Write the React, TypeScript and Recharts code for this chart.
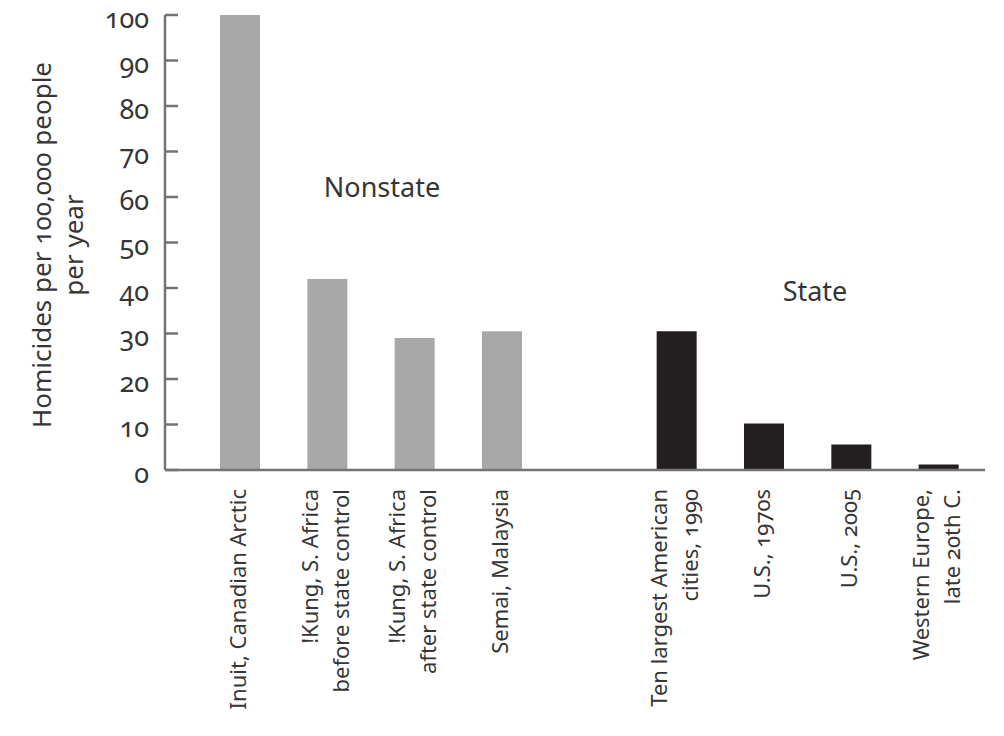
import { BarChart, Bar, XAxis, YAxis, Cell } from 'recharts';

const categories = [
  'Inuit, Canadian Arctic',
  '!Kung, S. Africa\nbefore state control',
  '!Kung, S. Africa\nafter state control',
  'Semai, Malaysia',
  '',
  'Ten largest American\ncities, 1990',
  'U.S., 1970s',
  'U.S., 2005',
  'Western Europe,\nlate 20th C.',
];
const rates = [100, 42, 29, 30.5, null, 30.5, 10.2, 5.6, 1.2];
const groups = ['nonstate', 'nonstate', 'nonstate', 'nonstate', '', 'state', 'state', 'state', 'state'];
const yTicks = [0, 10, 20, 30, 40, 50, 60, 70, 80, 90, 100];

const FONT = '"Noto Sans", "Open Sans", sans-serif';
const TEXT = '#363636';
const AXIS = '#747474';
const COLORS: Record<string, string> = { nonstate: '#a8a8a8', state: '#231f20' };
const NUMS = { fontVariantNumeric: 'oldstyle-nums', fontFeatureSettings: '"onum" 1' } as any;

const data = categories.map((name, i) => ({ name, rate: rates[i], group: groups[i] }));

function CategoryTick({ x, y, payload }: any) {
  const lines = String(payload.value).split('\n');
  const n = lines.length;
  return (
    <g transform={`translate(${x - 3},${y + 17})`}>
      <text transform="rotate(-90)" textAnchor="end" fill={TEXT} fontSize={22} fontFamily={FONT} style={NUMS}>
        {lines.map((line, i) => (
          <tspan key={i} x={0} y={(i - (n - 1) / 2) * 31} dominantBaseline="central">{line}</tspan>
        ))}
      </text>
    </g>
  );
}

function ValueTick({ x, y, payload }: any) {
  // zero-width non-joiner keeps the shaper on the full OpenType path so "onum" applies
  return (
    <g>
      <line x1={x + 16} x2={x + 29} y1={y} y2={y} stroke={AXIS} strokeWidth={2.5} />
      <text x={x} y={y + 2} textAnchor="end" dominantBaseline="central" fill={TEXT} fontSize={27} fontFamily={FONT} style={NUMS}>
        {'\u200C' + String(payload.value)}
      </text>
    </g>
  );
}

export default function App() {
  return (
    <div
      style={{
        position: 'absolute', left: 0, top: 0, width: 1004, height: 736, background: '#fff',
        fontFamily: FONT, ...NUMS,
      }}
    >
      <BarChart width={1004} height={736} data={data} margin={{ top: 15, right: 19, bottom: 0, left: 0 }}>
        <XAxis
          dataKey="name"
          interval={0}
          height={266}
          padding={{ left: 31, right: 3 }}
          tickLine={false}
          tickSize={0}
          axisLine={{ stroke: AXIS, strokeWidth: 2.5 }}
          tick={<CategoryTick />}
        />
        <YAxis
          width={165}
          domain={[0, 100]}
          ticks={yTicks}
          interval={0}
          tickLine={false}
          tickSize={0}
          tickMargin={16}
          axisLine={{ stroke: AXIS, strokeWidth: 2.5 }}
          tick={<ValueTick />}
        />
        <Bar dataKey="rate" barSize={40} isAnimationActive={false}>
          {data.map((d, i) => (
            <Cell key={i} fill={COLORS[d.group] || 'none'} />
          ))}
        </Bar>
        <text transform="translate(41,245) rotate(-90)" textAnchor="middle" dominantBaseline="central"
          fill={TEXT} fontSize={26} fontFamily={FONT} style={NUMS}>
          Homicides per 100,000 people
        </text>
        <text transform="translate(73,245) rotate(-90)" textAnchor="middle" dominantBaseline="central"
          fill={TEXT} fontSize={26} fontFamily={FONT}>
          per year
        </text>
        <text x={382} y={186} textAnchor="middle" dominantBaseline="central" fill={TEXT} fontSize={27} fontFamily={FONT}>
          Nonstate
        </text>
        <text x={815} y={290} textAnchor="middle" dominantBaseline="central" fill={TEXT} fontSize={27} fontFamily={FONT}>
          State
        </text>
      </BarChart>
    </div>
  );
}
